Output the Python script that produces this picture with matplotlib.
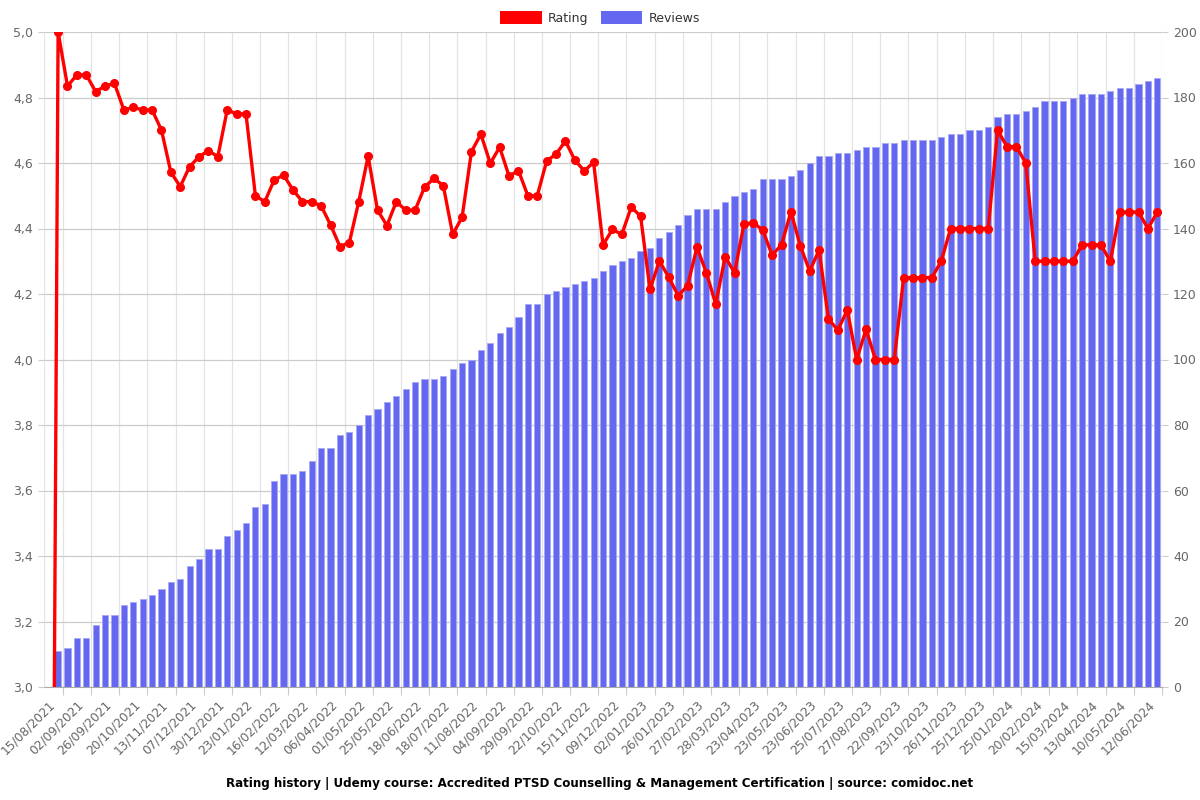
import numpy as np
import matplotlib
matplotlib.use("Agg")
import matplotlib.pyplot as plt
from matplotlib.patches import Patch
from matplotlib.ticker import FuncFormatter, FixedLocator

# rating per snapshot (first snapshot is an empty 0 entry)
rating = [0.0,
          5.0, 4.835, 4.869, 4.869, 4.818, 4.835, 4.843, 4.762, 4.770, 4.762,
          4.762, 4.701, 4.572, 4.528, 4.589, 4.619, 4.638, 4.619, 4.762, 4.750,
          4.750, 4.500, 4.482, 4.548, 4.563, 4.518, 4.482, 4.482, 4.469, 4.411,
          4.345, 4.357, 4.482, 4.621, 4.456, 4.409, 4.482, 4.456, 4.456, 4.526,
          4.553, 4.531, 4.382, 4.434, 4.635, 4.688, 4.599, 4.648, 4.560, 4.577,
          4.500, 4.500, 4.606, 4.627, 4.667, 4.609, 4.576, 4.602, 4.350, 4.397,
          4.382, 4.465, 4.438, 4.214, 4.301, 4.251, 4.195, 4.225, 4.343, 4.265,
          4.169, 4.314, 4.265, 4.413, 4.418, 4.395, 4.319, 4.350, 4.451, 4.347,
          4.270, 4.334, 4.123, 4.090, 4.151, 4.000, 4.092, 4.000, 4.000, 4.000,
          4.250, 4.250, 4.250, 4.250, 4.300, 4.400, 4.400, 4.400, 4.400, 4.400,
          4.700, 4.650, 4.650, 4.600, 4.300, 4.300, 4.300, 4.300, 4.300, 4.350,
          4.350, 4.350, 4.300, 4.450, 4.450, 4.450, 4.400, 4.450]

reviews = [0,
           11, 12, 15, 15, 19, 22, 22, 25, 26, 27,
           28, 30, 32, 33, 37, 39, 42, 42, 46, 48,
           50, 55, 56, 63, 65, 65, 66, 69, 73, 73,
           77, 78, 80, 83, 85, 87, 89, 91, 93, 94,
           94, 95, 97, 99, 100, 103, 105, 108, 110, 113,
           117, 117, 120, 121, 122, 123, 124, 125, 127, 129,
           130, 131, 133, 134, 137, 139, 141, 144, 146, 146,
           146, 148, 150, 151, 152, 155, 155, 155, 156, 158,
           160, 162, 162, 163, 163, 164, 165, 165, 166, 166,
           167, 167, 167, 167, 168, 169, 169, 170, 170, 171,
           174, 175, 175, 176, 177, 179, 179, 179, 180, 181,
           181, 181, 182, 183, 183, 184, 185, 186]

# every third snapshot is labelled
date_labels = ["15/08/2021", "02/09/2021", "26/09/2021", "20/10/2021", "13/11/2021",
               "07/12/2021", "30/12/2021", "23/01/2022", "16/02/2022", "12/03/2022",
               "06/04/2022", "01/05/2022", "25/05/2022", "18/06/2022", "18/07/2022",
               "11/08/2022", "04/09/2022", "29/09/2022", "22/10/2022", "15/11/2022",
               "09/12/2022", "02/01/2023", "26/01/2023", "27/02/2023", "28/03/2023",
               "23/04/2023", "23/05/2023", "23/06/2023", "25/07/2023", "27/08/2023",
               "22/09/2023", "23/10/2023", "26/11/2023", "25/12/2023", "25/01/2024",
               "20/02/2024", "15/03/2024", "13/04/2024", "10/05/2024", "12/06/2024"]

plt.rcParams['font.family'] = ['DejaVu Sans']

x = np.arange(len(rating))
label_pos = np.arange(len(date_labels)) * 3
tick_pos = label_pos + 1.5

fig = plt.figure(figsize=(12, 8), dpi=100)
ax2 = fig.add_axes([0.03667, 0.14125, 0.93167, 0.81875])
ax = ax2.twinx()

# bars (reviews) on the right axis, drawn underneath
ax2.bar(x, reviews, width=0.66, color='#6467ef', edgecolor='#a7a9f4', linewidth=0.6, zorder=2)
ax2.set_ylim(0, 200)
ax2.set_xlim(-0.5, len(rating) - 0.5)
ax2.yaxis.tick_right()
ax2.yaxis.set_label_position('right')
ax2.set_yticks(np.arange(0, 201, 20))
ax2.grid(axis='y', color='#cccccc', linewidth=0.9, zorder=0)
ax2.xaxis.set_major_locator(FixedLocator(tick_pos))
ax2.xaxis.set_minor_locator(FixedLocator(label_pos))
ax2.xaxis.set_major_formatter(FuncFormatter(lambda v, p: ''))
ax2.set_xticklabels(date_labels, minor=True, rotation=45, ha='right', rotation_mode='anchor')
ax2.tick_params(axis='x', which='minor', length=0, pad=8, labelsize=8.8, labelcolor='#666666')
ax2.tick_params(axis='x', which='major', length=6, color='#cccccc')
ax2.grid(axis='x', which='major', color='#e3e3e3', linewidth=0.9, zorder=0)
ax2.tick_params(axis='y', length=4, color='#cccccc', labelsize=9, labelcolor='#666666', pad=4)
for s in ['top', 'left', 'right']:
    ax2.spines[s].set_visible(False)
ax2.spines['bottom'].set_color('#aaaaaa')

# rating line on the left axis, on top
ax.set_zorder(ax2.get_zorder() + 1)
ax.patch.set_visible(False)
ax.plot(x, rating, color='#ff0000', linewidth=2.4, marker='o', markersize=5.5, zorder=3)
ax.set_ylim(3.0, 5.0)
ax.yaxis.tick_left()
ax.set_yticks(np.arange(3.0, 5.01, 0.2))
ax.yaxis.set_major_formatter(FuncFormatter(lambda v, p: f"{v:.1f}".replace('.', ',')))
ax.tick_params(axis='y', length=4, color='#cccccc', labelsize=9, labelcolor='#666666', pad=4)
for s in ['top', 'left', 'right', 'bottom']:
    ax.spines[s].set_visible(False)
ax.axvline(-0.5, color='#e3e3e3', linewidth=0.9, zorder=0)

handles = [Patch(facecolor='#ff0000', label='Rating'),
           Patch(facecolor='#6467ef', label='Reviews')]
fig.legend(handles=handles, loc='upper center', bbox_to_anchor=(0.5, 1.0), ncol=2,
           frameon=False, fontsize=9, handlelength=3.3, handleheight=1.2,
           columnspacing=1.0, handletextpad=0.5, labelcolor='#333333')

fig.text(0.5, 0.021, "Rating history | Udemy course: Accredited PTSD Counselling & Management "
         "Certification | source: comidoc.net", ha='center', va='center',
         fontsize=8.6, fontweight='bold')

fig.savefig("out.png", dpi=100)
